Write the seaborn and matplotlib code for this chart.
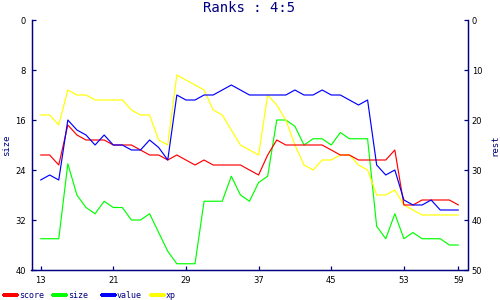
import matplotlib
matplotlib.use("Agg")
import matplotlib.pyplot as plt
import seaborn as sns
import pandas as pd
from matplotlib.lines import Line2D

# ---- data ----
x = list(range(13, 60))
score = [27, 27, 29, 21, 23, 24, 24, 24, 25, 25, 25, 26, 27, 27, 28, 27,
         28, 29, 28, 29, 29, 29, 29, 30, 31, 27, 24, 25, 25, 25, 25, 25,
         26, 27, 27, 28, 28, 28, 28, 26, 37, 37, 36, 36, 36, 36, 37]
size = [35, 35, 35, 23, 28, 30, 31, 29, 30, 30, 32, 32, 31, 34, 37, 39,
        39, 39, 29, 29, 29, 25, 28, 29, 26, 25, 16, 16, 17, 20, 19, 19,
        20, 18, 19, 19, 19, 33, 35, 31, 35, 34, 35, 35, 35, 36, 36]
value = [32, 31, 32, 20, 22, 23, 25, 23, 25, 25, 26, 26, 24, 25.5, 28, 15,
         16, 16, 15, 15, 14, 13, 14, 15, 15, 15, 15, 15, 14, 15, 15, 14,
         15, 15, 16, 17, 16, 29, 31, 30, 36, 37, 37, 36, 38, 38, 38]
xp = [19, 19, 21, 14, 15, 15, 16, 16, 16, 16, 18, 19, 19, 24, 25, 11,
      12, 13, 14, 18, 19, 22, 25, 26, 27, 15, 17, 20, 25, 29, 30, 28,
      28, 27, 27, 29, 30, 35, 35, 34, 37, 38, 39, 39, 39, 39, 39]

left_ticks = [0, 8, 16, 24, 32, 40]
right_ticks = [0, 10, 20, 30, 40, 50]
x_ticks = [13, 21, 29, 37, 45, 53, 59]
series_names = ["score", "size", "value", "xp"]
series_colors = ["#ff0000", "#00ff00", "#0000ff", "#ffff00"]
title = "Ranks : 4:5"
NAVY = "#000080"

sns.set_style("white")
plt.rcParams['font.family'] = ['DejaVu Sans Mono', 'DejaVu Sans']
NUMFONT = ['DejaVu Sans']

df = pd.DataFrame({"x": x, "score": score, "size": size, "value": value, "xp": xp})

fig = plt.figure(figsize=(5, 3), dpi=100)
ax = fig.add_axes([31.5 / 500, 30 / 300, 436 / 500, 250 / 300])
ax2 = ax.twinx()

lw = 0.85
sns.lineplot(data=df, x="x", y="size", ax=ax, color=series_colors[1], lw=lw,
             legend=False)
for name, col in [("xp", series_colors[3]), ("score", series_colors[0]), ("value", series_colors[2])]:
    sns.lineplot(data=df, x="x", y=name, ax=ax2, color=col, lw=lw,
                 legend=False)

ax.set_xlim(12, 60)
ax.set_ylim(40, 0)
ax2.set_ylim(50, 0)
ax.set_xticks(x_ticks)
ax.set_xticklabels([str(t) for t in x_ticks], family=NUMFONT)
ax.set_yticks(left_ticks)
ax.set_yticklabels([str(t) for t in left_ticks], family=NUMFONT)
ax2.set_yticks(right_ticks)
ax2.set_yticklabels([str(t) for t in right_ticks], family=NUMFONT)

for a in (ax, ax2):
    a.set_facecolor("none")
    a.spines["top"].set_visible(False)
    for s in ("left", "right", "bottom"):
        a.spines[s].set_color(NAVY)
        a.spines[s].set_linewidth(0.9)
    a.grid(False)

ax.tick_params(axis='both', direction='in', length=3, width=0.9, color=NAVY,
               labelsize=6, labelcolor='black', pad=4)
ax.tick_params(axis='y', left=True, right=False)
ax.tick_params(axis='x', bottom=True, top=False)
ax2.tick_params(axis='y', direction='in', length=3, width=0.9, color=NAVY,
                labelsize=6, labelcolor='black', pad=3, right=True, left=False)

ax.set_xlabel("")
ax.set_ylabel("size", color=NAVY, fontsize=6.5)
ax.yaxis.set_label_coords(-0.047, 0.5)
ax2.set_ylabel("rest", color=NAVY, fontsize=6.5, rotation=90)
ax2.yaxis.set_label_coords(1.052, 0.5)

fig.text(249 / 500, 1 - 8 / 300, title, color=NAVY, fontsize=10,
         ha='center', va='center')

# legend at the bottom
for i, (name, col) in enumerate(zip(series_names, series_colors)):
    x0 = 4 + 49 * i
    fig.add_artist(Line2D([x0 / 500, (x0 + 13) / 500], [1 - 295 / 300] * 2,
                          transform=fig.transFigure, color=col, lw=1.5,
                          antialiased=False))
    fig.text((x0 + 15) / 500, 1 - 295 / 300, name, color=NAVY, fontsize=6,
             ha='left', va='center')

fig.savefig("out.png", dpi=100)
